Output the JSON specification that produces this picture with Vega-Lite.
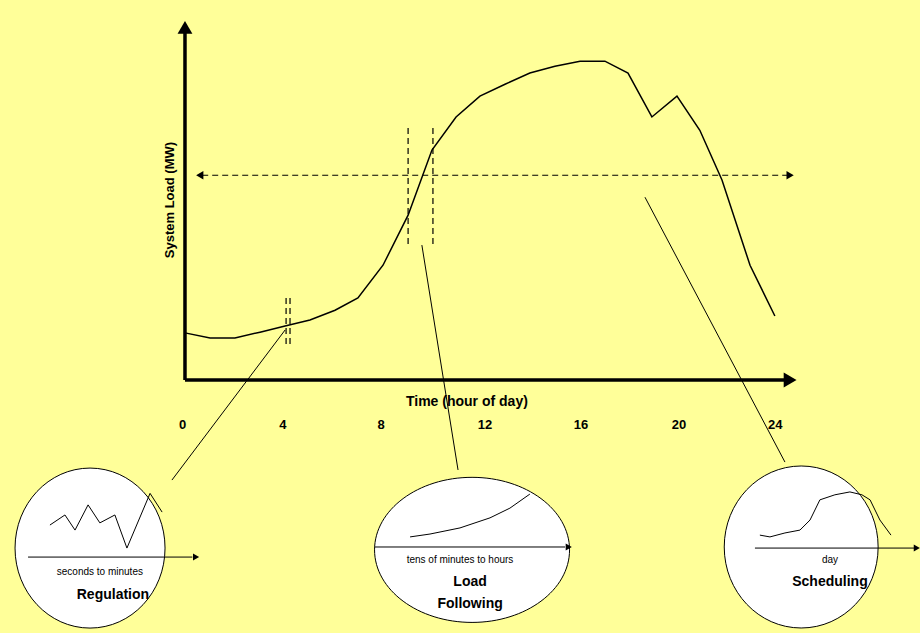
{
"$schema":"https://vega.github.io/schema/vega-lite/v6.json",
"width":920,"height":633,"autosize":{"type":"fit","contains":"padding"},"padding":0,
"background":"#FFFF99",
"config":{"view":{"stroke":null},"font":"Arial"},
"datasets":{
"lines":[
{"g":"load","t":"thick","i":0,"x":0,"y":13.1},{"g":"load","t":"thick","i":1,"x":1.02,"y":11.7},{"g":"load","t":"thick","i":2,"x":2.03,"y":11.7},{"g":"load","t":"thick","i":3,"x":3.05,"y":13.3},{"g":"load","t":"thick","i":4,"x":4.07,"y":15.0},{"g":"load","t":"thick","i":5,"x":5.08,"y":16.7},{"g":"load","t":"thick","i":6,"x":6.1,"y":19.4},{"g":"load","t":"thick","i":7,"x":7.03,"y":22.8},{"g":"load","t":"thick","i":8,"x":8.05,"y":31.9},{"g":"load","t":"thick","i":9,"x":9.07,"y":45.8},{"g":"load","t":"thick","i":10,"x":10.04,"y":63.9},{"g":"load","t":"thick","i":11,"x":11.02,"y":73.1},{"g":"load","t":"thick","i":12,"x":11.99,"y":78.9},{"g":"load","t":"thick","i":13,"x":13.01,"y":82.2},{"g":"load","t":"thick","i":14,"x":14.02,"y":85.3},{"g":"load","t":"thick","i":15,"x":15.04,"y":87.2},{"g":"load","t":"thick","i":16,"x":16.06,"y":88.6},{"g":"load","t":"thick","i":17,"x":17.07,"y":88.6},{"g":"load","t":"thick","i":18,"x":18.01,"y":85.3},{"g":"load","t":"thick","i":19,"x":18.98,"y":73.1},{"g":"load","t":"thick","i":20,"x":20.0,"y":78.9},{"g":"load","t":"thick","i":21,"x":20.93,"y":69.4},{"g":"load","t":"thick","i":22,"x":21.83,"y":55.6},{"g":"load","t":"thick","i":23,"x":22.97,"y":31.9},{"g":"load","t":"thick","i":24,"x":23.98,"y":17.8},
{"g":"yax","t":"axis","i":0,"x":0,"y":0},{"g":"yax","t":"axis","i":1,"x":0,"y":98},
{"g":"xax","t":"axis","i":0,"x":0,"y":0},{"g":"xax","t":"axis","i":1,"x":24.5,"y":0},
{"g":"h","t":"dash","i":0,"x":0.7,"y":56.9},{"g":"h","t":"dash","i":1,"x":24.5,"y":56.9},
{"g":"d1","t":"dash","i":0,"x":4.11,"y":22.8},{"g":"d1","t":"dash","i":1,"x":4.11,"y":9.7},
{"g":"d2","t":"dash","i":0,"x":4.27,"y":22.8},{"g":"d2","t":"dash","i":1,"x":4.27,"y":9.7},
{"g":"d3","t":"dash","i":0,"x":9.07,"y":70},{"g":"d3","t":"dash","i":1,"x":9.07,"y":37.5},
{"g":"d4","t":"dash","i":0,"x":10.08,"y":70},{"g":"d4","t":"dash","i":1,"x":10.08,"y":37.5},
{"g":"a1","t":"thin","i":0,"x":-0.53,"y":-27.8},{"g":"a1","t":"thin","i":1,"x":4.07,"y":13.9},
{"g":"a2","t":"thin","i":0,"x":11.1,"y":-25},{"g":"a2","t":"thin","i":1,"x":9.63,"y":37.5},
{"g":"a3","t":"thin","i":0,"x":24.39,"y":-22.8},{"g":"a3","t":"thin","i":1,"x":18.7,"y":50.8},
{"g":"r","t":"thin","i":0,"x":-5.49,"y":-40.3},{"g":"r","t":"thin","i":1,"x":-4.88,"y":-37.5},{"g":"r","t":"thin","i":2,"x":-4.47,"y":-41.7},{"g":"r","t":"thin","i":3,"x":-3.94,"y":-34.7},{"g":"r","t":"thin","i":4,"x":-3.46,"y":-39.7},{"g":"r","t":"thin","i":5,"x":-2.85,"y":-37.5},{"g":"r","t":"thin","i":6,"x":-2.36,"y":-46.7},{"g":"r","t":"thin","i":7,"x":-1.42,"y":-31.5},{"g":"r","t":"thin","i":8,"x":-0.93,"y":-36.7},
{"g":"ra","t":"thin","i":0,"x":-6.38,"y":-49.2},{"g":"ra","t":"thin","i":1,"x":0.3,"y":-49.2},
{"g":"lf","t":"thin","i":0,"x":9.15,"y":-43.6},{"g":"lf","t":"thin","i":1,"x":9.96,"y":-42.8},{"g":"lf","t":"thin","i":2,"x":11.18,"y":-41.1},{"g":"lf","t":"thin","i":3,"x":12.4,"y":-38.3},{"g":"lf","t":"thin","i":4,"x":13.21,"y":-35.6},{"g":"lf","t":"thin","i":5,"x":14.02,"y":-31.7},
{"g":"lfa","t":"thin","i":0,"x":7.72,"y":-46.4},{"g":"lfa","t":"thin","i":1,"x":15.45,"y":-46.4},
{"g":"s","t":"thin","i":0,"x":23.37,"y":-43.1},{"g":"s","t":"thin","i":1,"x":23.78,"y":-43.6},{"g":"s","t":"thin","i":2,"x":24.39,"y":-42.5},{"g":"s","t":"thin","i":3,"x":25.0,"y":-41.7},{"g":"s","t":"thin","i":4,"x":25.41,"y":-38.9},{"g":"s","t":"thin","i":5,"x":25.81,"y":-33.3},{"g":"s","t":"thin","i":6,"x":26.42,"y":-31.9},{"g":"s","t":"thin","i":7,"x":27.03,"y":-31.1},{"g":"s","t":"thin","i":8,"x":27.52,"y":-31.9},{"g":"s","t":"thin","i":9,"x":27.85,"y":-33.3},{"g":"s","t":"thin","i":10,"x":28.25,"y":-38.9},{"g":"s","t":"thin","i":11,"x":28.7,"y":-43.1},
{"g":"sa","t":"thin","i":0,"x":23.17,"y":-46.7},{"g":"sa","t":"thin","i":1,"x":29.7,"y":-46.7}
],
"heads":[
{"k":"up","x":0,"y":98},{"k":"right","x":24.6,"y":0},
{"k":"sright","x":0.45,"y":-49.2},{"k":"sright","x":15.6,"y":-46.4},{"k":"sright","x":29.75,"y":-46.7}
],
"dheads":[{"k":"left","x":0.6,"y":56.9},{"k":"right","x":24.6,"y":56.9}],
"ellipses":[{"n":"reg","x":-3.86,"y":-46.7},{"n":"lf","x":11.67,"y":-47.2},{"n":"sch","x":25.05,"y":-46.4}],
"texts":[
{"s":"0","x":-0.1,"y":-12.5,"w":"b","f":13},{"s":"4","x":3.98,"y":-12.5,"w":"b","f":13},{"s":"8","x":7.97,"y":-12.5,"w":"b","f":13},{"s":"12","x":12.2,"y":-12.5,"w":"b","f":13},{"s":"16","x":16.1,"y":-12.5,"w":"b","f":13},{"s":"20","x":20.08,"y":-12.5,"w":"b","f":13},{"s":"24","x":24.0,"y":-12.5,"w":"b","f":13},
{"s":"Time (hour of day)","x":11.46,"y":-6.1,"w":"b","f":14},
{"s":"seconds to minutes","x":-3.46,"y":-53.3,"w":"n","f":10},
{"s":"Regulation","x":-2.93,"y":-59.7,"w":"b","f":14},
{"s":"tens of minutes to hours","x":11.18,"y":-50,"w":"n","f":10},
{"s":"Load","x":11.59,"y":-56.1,"w":"b","f":14},
{"s":"Following","x":11.59,"y":-62.2,"w":"b","f":14},
{"s":"day","x":26.22,"y":-50,"w":"n","f":10},
{"s":"Scheduling","x":26.22,"y":-56.1,"w":"b","f":14}
]
},
"encoding":{
"x":{"field":"x","type":"quantitative","scale":{"domain":[-7.52,29.88],"nice":false,"zero":false},"axis":null},
"y":{"field":"y","type":"quantitative","scale":{"domain":[-70.3,105.6],"nice":false,"zero":false},"axis":null}
},
"layer":[
{"data":{"name":"ellipses"},"transform":[{"filter":"datum.n=='reg'"}],"mark":{"type":"point","filled":true,"fill":"white","stroke":"black","strokeWidth":1,"opacity":1,"size":25600,"shape":"M -0.9375 0 A 0.9375 1 0 1 0 0.9375 0 A 0.9375 1 0 1 0 -0.9375 0 Z"}},
{"data":{"name":"ellipses"},"transform":[{"filter":"datum.n=='lf'"}],"mark":{"type":"point","filled":true,"fill":"white","stroke":"black","strokeWidth":1,"opacity":1,"size":38025,"shape":"M -1 0 A 1 0.744 0 1 0 1 0 A 1 0.744 0 1 0 -1 0 Z"}},
{"data":{"name":"ellipses"},"transform":[{"filter":"datum.n=='sch'"}],"mark":{"type":"point","filled":true,"fill":"white","stroke":"black","strokeWidth":1,"opacity":1,"size":26244,"shape":"M -0.95 0 A 0.95 1 0 1 0 0.95 0 A 0.95 1 0 1 0 -0.95 0 Z"}},
{"data":{"name":"lines"},"transform":[{"filter":"datum.t=='axis'"}],"mark":{"type":"line","color":"black","strokeWidth":3.5},"encoding":{"detail":{"field":"g"},"order":{"field":"i"}}},
{"data":{"name":"lines"},"transform":[{"filter":"datum.t=='thick'"}],"mark":{"type":"line","color":"black","strokeWidth":1.5},"encoding":{"detail":{"field":"g"},"order":{"field":"i"}}},
{"data":{"name":"lines"},"transform":[{"filter":"datum.t=='dash'"}],"mark":{"type":"line","color":"black","strokeWidth":1.2,"strokeDash":[6,4]},"encoding":{"detail":{"field":"g"},"order":{"field":"i"}}},
{"data":{"name":"lines"},"transform":[{"filter":"datum.t=='thin'"}],"mark":{"type":"line","color":"black","strokeWidth":1},"encoding":{"detail":{"field":"g"},"order":{"field":"i"}}},
{"data":{"name":"heads"},"transform":[{"filter":"datum.k=='up'"}],"mark":{"type":"point","shape":"triangle-up","filled":true,"color":"black","opacity":1,"size":220}},
{"data":{"name":"heads"},"transform":[{"filter":"datum.k=='right'"}],"mark":{"type":"point","shape":"triangle-right","filled":true,"color":"black","opacity":1,"size":220}},
{"data":{"name":"heads"},"transform":[{"filter":"datum.k=='sright'"}],"mark":{"type":"point","shape":"triangle-right","filled":true,"color":"black","opacity":1,"size":50}},
{"data":{"name":"dheads"},"transform":[{"filter":"datum.k=='left'"}],"mark":{"type":"point","shape":"triangle-left","filled":true,"color":"black","opacity":1,"size":70}},
{"data":{"name":"dheads"},"transform":[{"filter":"datum.k=='right'"}],"mark":{"type":"point","shape":"triangle-right","filled":true,"color":"black","opacity":1,"size":70}},
{"data":{"name":"texts"},"transform":[{"filter":"datum.w=='b'"}],"mark":{"type":"text","color":"black","baseline":"middle","align":"center","fontWeight":"bold"},"encoding":{"text":{"field":"s"},"size":{"field":"f","type":"quantitative","scale":null}}},
{"data":{"name":"texts"},"transform":[{"filter":"datum.w=='n'"}],"mark":{"type":"text","color":"black","baseline":"middle","align":"center","fontSize":10},"encoding":{"text":{"field":"s"}}},
{"data":{"values":[{"s":"System Load (MW)","x":-0.61,"y":50}]},"mark":{"type":"text","angle":270,"fontWeight":"bold","fontSize":13,"color":"black","baseline":"middle"},"encoding":{"text":{"field":"s"}}}
]
}
